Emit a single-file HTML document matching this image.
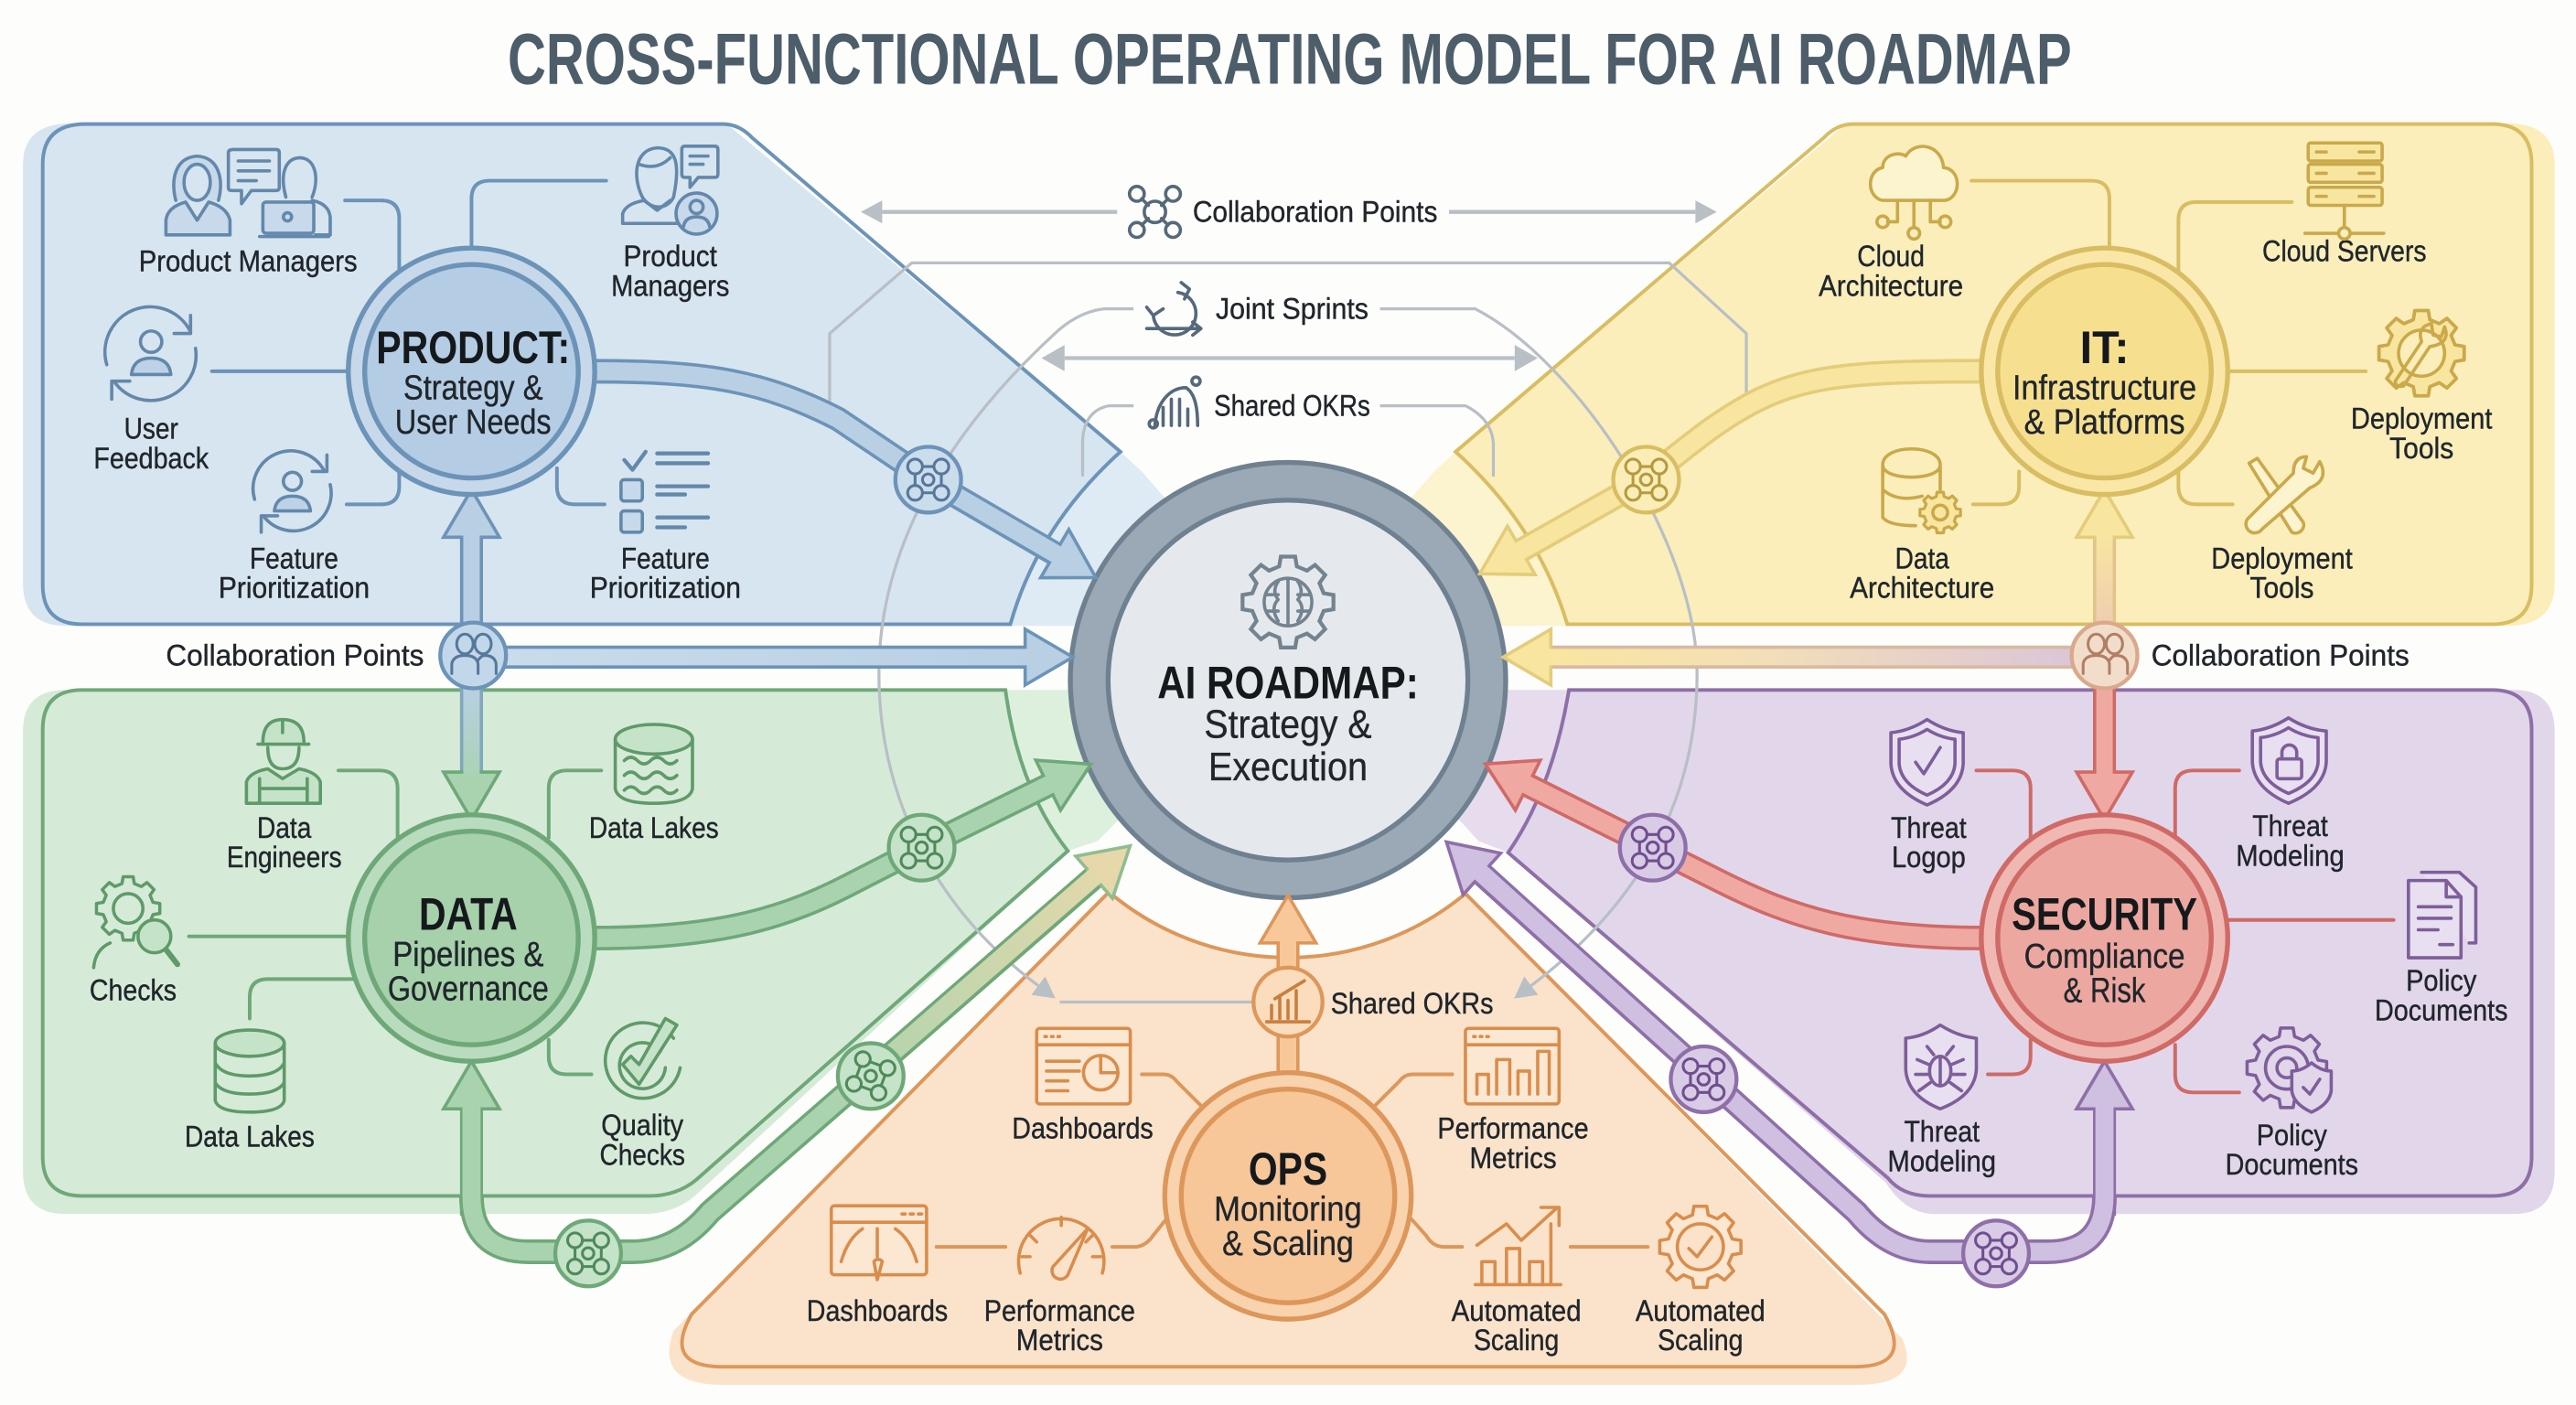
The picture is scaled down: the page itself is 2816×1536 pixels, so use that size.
<!DOCTYPE html>
<html><head><meta charset="utf-8"><title>Cross-Functional Operating Model for AI Roadmap</title>
<style>
html,body{margin:0;padding:0;background:#fdfdfc}
svg{display:block}
text{font-family:"Liberation Sans Narrow","Liberation Sans",sans-serif;fill:#20262b;text-anchor:middle}
.l{font-family:"Liberation Sans",sans-serif;font-size:18px;stroke:#20262b;stroke-width:.22px}
.h{font-family:"Liberation Sans",sans-serif;font-size:28px;font-weight:700;fill:#15191c}
.s{font-family:"Liberation Sans",sans-serif;font-size:21px;stroke:#20262b;stroke-width:.2px}
.ic{fill:none;stroke-width:2;stroke-linecap:round;stroke-linejoin:round}
.cn{fill:none;stroke-width:2.2;stroke-linecap:round;stroke-linejoin:round}
.g{fill:none;stroke:#b8bfc5;stroke-width:1.8}
.p{fill:none;stroke-linejoin:round}
</style></head><body>
<svg xmlns="http://www.w3.org/2000/svg" width="2816" height="1536" viewBox="0 0 1568 855.27">
<defs>
<polygon id="gear" points="19.4,-4.8 24.7,-3.9 24.7,3.9 19.4,4.8 17.1,10.3 20.2,14.7 14.7,20.2 10.3,17.1 4.8,19.4 3.9,24.7 -3.9,24.7 -4.8,19.4 -10.3,17.1 -14.7,20.2 -20.2,14.7 -17.1,10.3 -19.4,4.8 -24.7,3.9 -24.7,-3.9 -19.4,-4.8 -17.1,-10.3 -20.2,-14.7 -14.7,-20.2 -10.3,-17.1 -4.8,-19.4 -3.9,-24.7 3.9,-24.7 4.8,-19.4 10.3,-17.1 14.7,-20.2 20.2,-14.7 17.1,-10.3"/>
<g id="jn" fill="none" stroke-width="1.7" stroke-linecap="round"><circle cx="-8" cy="-8" r="4.5"/><circle cx="8" cy="-8" r="4.5"/><circle cx="-8" cy="8" r="4.5"/><circle cx="8" cy="8" r="4.5"/><circle cx="0" cy="0" r="3.5"/><path d="M-8,-3.5 V3.5 M8,-3.5 V3.5 M-3.5,-8 H3.5 M-3.5,8 H3.5"/></g>
<g id="ppl" fill="none" stroke-width="1.7" stroke-linecap="round"><ellipse cx="-5" cy="-7" rx="5" ry="6"/><ellipse cx="6" cy="-7" rx="5" ry="6"/><path d="M-13,11 V5 Q-12,0 -5,0 Q2,0 3,5 V11 M3,3 Q5,0 7,0 Q13,0 14,5 V11"/></g>
<marker id="mBlue" markerUnits="userSpaceOnUse" markerWidth="40" markerHeight="44" refX="2" refY="22" orient="auto"><path d="M2,5 L31,22 L2,39 Z" fill="#b9cfe4" stroke="#6c93b8" stroke-width="2"/></marker>
<marker id="mYel" markerUnits="userSpaceOnUse" markerWidth="40" markerHeight="44" refX="2" refY="22" orient="auto"><path d="M2,5 L31,22 L2,39 Z" fill="#f8e6a0" stroke="#e3cd7a" stroke-width="2"/></marker>
<marker id="mGrn" markerUnits="userSpaceOnUse" markerWidth="40" markerHeight="44" refX="2" refY="22" orient="auto"><path d="M2,5 L31,22 L2,39 Z" fill="#a9d3af" stroke="#6fa878" stroke-width="2"/></marker>
<marker id="mTan" markerUnits="userSpaceOnUse" markerWidth="40" markerHeight="44" refX="2" refY="22" orient="auto"><path d="M2,5 L31,22 L2,39 Z" fill="#e6d8ab" stroke="#8fbd8f" stroke-width="2"/></marker>
<marker id="mRed" markerUnits="userSpaceOnUse" markerWidth="40" markerHeight="44" refX="2" refY="22" orient="auto"><path d="M2,5 L31,22 L2,39 Z" fill="#efa9a2" stroke="#cf6a66" stroke-width="2"/></marker>
<marker id="mPur" markerUnits="userSpaceOnUse" markerWidth="40" markerHeight="44" refX="2" refY="22" orient="auto"><path d="M2,5 L31,22 L2,39 Z" fill="#cfbfe0" stroke="#8e6fa8" stroke-width="2"/></marker>
<marker id="mOr" markerUnits="userSpaceOnUse" markerWidth="40" markerHeight="44" refX="2" refY="22" orient="auto"><path d="M2,5 L31,22 L2,39 Z" fill="#f8c89a" stroke="#dd975a" stroke-width="2"/></marker>
<marker id="mG" markerUnits="userSpaceOnUse" markerWidth="18" markerHeight="18" refX="1" refY="9" orient="auto"><path d="M1,2 L14,9 L1,16 Z" fill="#b8bfc5"/></marker>
<linearGradient id="gBG" gradientUnits="userSpaceOnUse" x1="287" y1="418" x2="287" y2="480"><stop offset="0" stop-color="#b9cfe4"/><stop offset="1" stop-color="#a9d3af"/></linearGradient>
<linearGradient id="gGT" gradientUnits="userSpaceOnUse" x1="500" y1="680" x2="680" y2="520"><stop offset="0" stop-color="#a9d3af"/><stop offset="1" stop-color="#e6d8ab"/></linearGradient>
<linearGradient id="gYP" gradientUnits="userSpaceOnUse" x1="1260" y1="400" x2="940" y2="400"><stop offset="0" stop-color="#dcc6d8"/><stop offset="0.6" stop-color="#f3dfb6"/><stop offset="1" stop-color="#f8e6a0"/></linearGradient>
<linearGradient id="gYO" gradientUnits="userSpaceOnUse" x1="1281" y1="380" x2="1281" y2="325"><stop offset="0" stop-color="#f0cdb0"/><stop offset="1" stop-color="#f8e6a0"/></linearGradient>
<linearGradient id="gBl" gradientUnits="userSpaceOnUse" x1="300" y1="400" x2="630" y2="400"><stop offset="0" stop-color="#c9dcec"/><stop offset="1" stop-color="#b9cfe4"/></linearGradient>
</defs>

<rect width="1568" height="856" fill="#fdfdfc"/>
<text x="785" y="51" font-size="44" font-weight="700" style="fill:#4d5d6a;font-family:'Liberation Sans',sans-serif" textLength="952" lengthAdjust="spacingAndGlyphs">CROSS-FUNCTIONAL OPERATING MODEL FOR AI ROADMAP</text>

<!-- panels -->
<path d="M44,75 H442 L682,275 Q632,320 615,381 H40 Q14,381 14,355 V100 Q14,75 44,75Z" fill="#d7e5f0"/>
<path d="M695,287 L715,310 L680,381 H615 Q632,320 682,275Z" fill="#deebf4"/>
<path d="M52,75.5 H440 Q450,75.5 458,84 L682,275 Q632,320 615,380 H50 Q26,380 26,356 V100 Q26,75.5 52,75.5Z" fill="none" stroke="#6c93b8" stroke-width="2.2"/>

<path d="M1124,75 H1526 Q1555,75 1555,100 V355 Q1555,381 1526,381 H953 Q936,320 886,275Z" fill="#fbeebb"/>
<path d="M873,287 L853,310 L888,381 H953 Q936,320 886,275Z" fill="#fcf3cf"/>
<path d="M1128,75.5 H1517 Q1541,75.5 1541,100 V356 Q1541,380 1517,380 H954 Q936,320 886,275 L1110,84 Q1118,75.5 1128,75.5Z" fill="none" stroke="#d9bd62" stroke-width="2.2"/>

<path d="M14,445 Q14,420 40,420 H612 Q620,480 650,518 L423,728 Q410,739 392,739 H40 Q14,739 14,713Z" fill="#d6ead8"/>
<path d="M612,420 H700 L690,490 L668,512 L650,518 Q620,480 612,420Z" fill="#ddf0de"/>
<path d="M50,420 H612 Q620,480 650,518 L424,718 Q412,728 395,728 H50 Q26,728 26,704 V444 Q26,420 50,420Z" fill="none" stroke="#6fa878" stroke-width="2.2"/>

<path d="M955,420 H1530 Q1555,420 1555,445 V713 Q1555,739 1530,739 H1178 Q1160,739 1148,720 L918,519 Q945,480 955,420Z" fill="#e2d6ea"/>
<path d="M955,420 H868 L880,490 L900,512 L918,519 Q945,480 955,420Z" fill="#e6dcee"/>
<path d="M955,420 H1517 Q1541,420 1541,444 V704 Q1541,728 1517,728 H1174 Q1158,728 1149,717 L918,519 Q945,480 955,420Z" fill="none" stroke="#8e6fa8" stroke-width="2.2"/>

<path d="M675,543 A169,169 0 0 0 892,544 L1158,815 Q1170,843 1130,843 H440 Q398,843 410,810Z" fill="#fbe3cb"/>
<path d="M675,543 A169,169 0 0 0 892,544 L1147,800 Q1165,832 1129,832 H440 Q403,832 421,800Z" fill="none" stroke="#dd975a" stroke-width="2.2"/>

<!-- grey collaboration lines -->
<path class="g" style="stroke-width:2.4" d="M680,129 H537" marker-end="url(#mG)"/>
<path class="g" style="stroke-width:2.4" d="M882,129 H1032" marker-end="url(#mG)"/>
<path class="g" d="M505,245 V203 L555,160 H1016 L1063,203 V245"/>
<path class="g" d="M690,188 H672 Q655,190 640,205 C570,270 535,340 535,410 C535,480 565,550 632,600" marker-end="url(#mG)"/>
<path class="g" d="M840,188 H898 C960,220 1033,330 1033,410 C1033,500 985,560 932,600" marker-end="url(#mG)"/>
<path class="g" style="stroke-width:2.4" d="M648,218 H922" />
<path d="M648,210 L634,218 L648,226Z M922,210 L936,218 L922,226Z" fill="#b8bfc5"/>
<path class="g" d="M690,247 H675 Q660,250 659,268 V290"/>
<path class="g" d="M840,247 H892 Q908,255 909,270 V290"/>
<path class="g" d="M645,610 H765"/>

<!-- connectors -->
<g class="cn" stroke="#6c93b8">
<path d="M210,122 H232 Q243,122 243,133 V165"/><path d="M369,110 H298 Q287,110 287,121 V150"/><path d="M129,226 H212"/><path d="M211,307 H232 Q243,307 243,296 V287"/><path d="M368,307 H350 Q339,307 339,296 V285"/>
</g>
<g class="cn" stroke="#d9bd62">
<path d="M1200,110 H1273 Q1284,110 1284,121 V150"/><path d="M1395,123 H1337 Q1326,123 1326,134 V165"/><path d="M1356,226 H1440"/><path d="M1201,307 H1218 Q1229,307 1229,296 V287"/><path d="M1359,307 H1337 Q1326,307 1326,296 V285"/>
</g>
<g class="cn" stroke="#6fa878">
<path d="M206,469 H231 Q242,469 242,480 V510"/><path d="M366,469 H345 Q334,469 334,480 V510"/><path d="M115,570 H210"/><path d="M152,620 V607 Q152,596 163,596 H215"/><path d="M334,633 V643 Q334,654 345,654 H360"/>
</g>
<g class="cn" stroke="#cf6a66">
<path d="M1203,469 H1225 Q1236,469 1236,480 V510"/><path d="M1363,469 H1335 Q1324,469 1324,480 V510"/><path d="M1356,560 H1457"/><path d="M1210,654 H1225 Q1236,654 1236,643 V633"/><path d="M1363,665 H1335 Q1324,665 1324,654 V636"/>
</g>
<g class="cn" stroke="#dd975a">
<path d="M695,654 H708 Q713,654 716,658 L732,674"/><path d="M570,759 H612"/><path d="M677,759 H692 Q698,758 702,752 L710,742"/>
<path d="M884,654 H860 Q855,654 852,658 L836,674"/><path d="M859,742 L868,752 Q872,759 879,759 H890"/><path d="M956,759 H1003"/>
</g>

<!-- center ring -->
<circle cx="784" cy="414" r="121" fill="#e5e9ee" stroke="#9aa9b5" stroke-width="23"/>
<circle cx="784" cy="414" r="132.5" fill="none" stroke="#6f8090" stroke-width="3"/>
<circle cx="784" cy="414" r="109.5" fill="none" stroke="#6f8090" stroke-width="3"/>

<!-- pipes -->
<g class="p">
<path d="M362,226 C430,226 465,232 510,255 L565,292 L642,337" stroke="#6c93b8" stroke-width="15" marker-end="url(#mBlue)"/>
<path d="M362,226 C430,226 465,232 510,255 L565,292 L644,338" stroke="#b9cfe4" stroke-width="11"/>
<path d="M287,385 V327" stroke="#6c93b8" stroke-width="14" marker-end="url(#mBlue)"/>
<path d="M287,385 V325" stroke="#b9cfe4" stroke-width="10"/>
<path d="M300,400 H624" stroke="#6c93b8" stroke-width="14" marker-end="url(#mBlue)"/>
<path d="M300,400 H626" stroke="url(#gBl)" stroke-width="10"/>
<path d="M287,418 V470" stroke="#7fa8bc" stroke-width="14" marker-end="url(#mGrn)"/>
<path d="M287,418 V472" stroke="url(#gBG)" stroke-width="10"/>
<path d="M362,571 C440,571 480,558 520,537 L561,516 L638,478" stroke="#6fa878" stroke-width="15" marker-end="url(#mGrn)"/>
<path d="M362,571 C440,571 480,558 520,537 L561,516 L640,477" stroke="#a9d3af" stroke-width="11"/>
<path d="M287,740 V675" stroke="#6fa878" stroke-width="14" marker-end="url(#mGrn)"/>
<path d="M287,728 Q287,762 322,762 H385 Q412,762 432,738 L666,534" stroke="#6fa878" stroke-width="15" marker-end="url(#mTan)"/>
<path d="M287,673 V728 Q287,762 322,762 H385 Q412,762 432,738 L668,532" stroke="url(#gGT)" stroke-width="11"/>
<path d="M1206,226 C1110,226 1085,230 1040,262 Q1020,277 1002,292 L926,335" stroke="#e3cd7a" stroke-width="15" marker-end="url(#mYel)"/>
<path d="M1206,226 C1110,226 1085,230 1040,262 Q1020,277 1002,292 L924,336" stroke="#f8e6a0" stroke-width="11"/>
<path d="M1281,385 V327" stroke="#e2c48a" stroke-width="14" marker-end="url(#mYel)"/>
<path d="M1281,385 V325" stroke="url(#gYO)" stroke-width="10"/>
<path d="M1262,400 H944" stroke="#d9b9a0" stroke-width="14" marker-end="url(#mYel)"/>
<path d="M1262,400 H942" stroke="url(#gYP)" stroke-width="10"/>
<path d="M1281,418 V470" stroke="#cf6a66" stroke-width="14" marker-end="url(#mRed)"/>
<path d="M1281,418 V472" stroke="#efa9a2" stroke-width="10"/>
<path d="M1207,571 C1130,571 1090,558 1048,537 L1006,516 L930,478" stroke="#cf6a66" stroke-width="15" marker-end="url(#mRed)"/>
<path d="M1207,571 C1130,571 1090,558 1048,537 L1006,516 L928,477" stroke="#efa9a2" stroke-width="11"/>
<path d="M1281,740 V675" stroke="#8e6fa8" stroke-width="14" marker-end="url(#mPur)"/>
<path d="M1281,728 Q1281,762 1246,762 H1175 Q1150,762 1130,738 L902,532" stroke="#8e6fa8" stroke-width="15" marker-end="url(#mPur)"/>
<path d="M1281,673 V728 Q1281,762 1246,762 H1175 Q1150,762 1130,738 L900,530" stroke="#cfbfe0" stroke-width="11"/>
<path d="M784,652 V574" stroke="#dd975a" stroke-width="14" marker-end="url(#mOr)"/>
<path d="M784,652 V572" stroke="#f8c89a" stroke-width="10"/>
</g>

<!-- junctions -->
<g stroke-width="2.4">
<circle cx="565" cy="292" r="20" fill="#cbdcec" stroke="#6c93b8"/><use href="#jn" x="565" y="292" stroke="#56789b"/>
<circle cx="288" cy="399" r="20" fill="#c3d7ea" stroke="#6c93b8"/><use href="#ppl" x="288" y="399" stroke="#56789b"/>
<circle cx="1002" cy="292" r="20" fill="#fbedb8" stroke="#d9bd62"/><use href="#jn" x="1002" y="292" stroke="#b59a3f"/>
<circle cx="1281" cy="399" r="20" fill="#f2ddcb" stroke="#d9a98a"/><use href="#ppl" x="1281" y="399" stroke="#b07f65"/>
<circle cx="561" cy="516" r="20" fill="#c5e3c9" stroke="#6fa878"/><use href="#jn" x="561" y="516" stroke="#4f8a5a"/>
<circle cx="530" cy="655" r="20" fill="#c5e3c9" stroke="#6fa878"/><use href="#jn" x="530" y="655" stroke="#4f8a5a" transform="rotate(20 530 655)"/>
<circle cx="358" cy="763" r="20" fill="#c5e3c9" stroke="#6fa878"/><use href="#jn" x="358" y="763" stroke="#4f8a5a"/>
<circle cx="1006" cy="516" r="20" fill="#d9cbe6" stroke="#8e6fa8"/><use href="#jn" x="1006" y="516" stroke="#6f4f8f"/>
<circle cx="1037" cy="657" r="20" fill="#d9cbe6" stroke="#8e6fa8"/><use href="#jn" x="1037" y="657" stroke="#6f4f8f"/>
<circle cx="1215" cy="763" r="20" fill="#d9cbe6" stroke="#8e6fa8"/><use href="#jn" x="1215" y="763" stroke="#6f4f8f"/>
<circle cx="784" cy="610" r="21" fill="#fbdcbc" stroke="#dd975a"/>
<g class="ic" stroke="#c77f3f" stroke-width="1.7"><path d="M774,620 V612 M779,620 V606 M784,620 V609 M789,620 V603 M794,597 L776,608"/><path d="M771,622 H797"/></g>
</g>

<!-- nodes -->
<g stroke-width="3">
<circle cx="287" cy="226" r="75" fill="#c6d8ea" stroke="#6c93b8"/><circle cx="287" cy="226" r="65" fill="#b4cce4" stroke="#6c93b8"/>
<circle cx="1281" cy="226" r="75" fill="#fae7a8" stroke="#d9bd62"/><circle cx="1281" cy="226" r="65" fill="#f7df90" stroke="#d9bd62"/>
<circle cx="287" cy="571" r="75" fill="#b9dcbe" stroke="#6fa878"/><circle cx="287" cy="571" r="65" fill="#a6d1ab" stroke="#6fa878"/>
<circle cx="1281" cy="571" r="75" fill="#f0b8b2" stroke="#cf6a66"/><circle cx="1281" cy="571" r="65" fill="#eca7a0" stroke="#cf6a66"/>
<circle cx="784" cy="728" r="75" fill="#f9d2ae" stroke="#dd975a"/><circle cx="784" cy="728" r="65" fill="#f7c699" stroke="#dd975a"/>
</g>

<!-- node text -->
<text class="h" x="288" y="221" textLength="118" lengthAdjust="spacingAndGlyphs">PRODUCT:</text>
<text class="s" x="288" y="243" textLength="85" lengthAdjust="spacingAndGlyphs">Strategy &amp;</text>
<text class="s" x="288" y="264" textLength="95" lengthAdjust="spacingAndGlyphs">User Needs</text>
<text class="h" x="1281" y="221" textLength="30" lengthAdjust="spacingAndGlyphs">IT:</text>
<text class="s" x="1281" y="243" textLength="112" lengthAdjust="spacingAndGlyphs">Infrastructure</text>
<text class="s" x="1281" y="264" textLength="98" lengthAdjust="spacingAndGlyphs">&amp; Platforms</text>
<text class="h" x="285" y="566" textLength="60" lengthAdjust="spacingAndGlyphs">DATA</text>
<text class="s" x="285" y="588" textLength="92" lengthAdjust="spacingAndGlyphs">Pipelines &amp;</text>
<text class="s" x="285" y="609" textLength="98" lengthAdjust="spacingAndGlyphs">Governance</text>
<text class="h" x="1281" y="566" textLength="113" lengthAdjust="spacingAndGlyphs">SECURITY</text>
<text class="s" x="1281" y="589" textLength="98" lengthAdjust="spacingAndGlyphs">Compliance</text>
<text class="s" x="1281" y="610" textLength="50" lengthAdjust="spacingAndGlyphs">&amp; Risk</text>
<text class="h" x="784" y="721" textLength="48" lengthAdjust="spacingAndGlyphs">OPS</text>
<text class="s" x="784" y="743" textLength="90" lengthAdjust="spacingAndGlyphs">Monitoring</text>
<text class="s" x="784" y="764" textLength="80" lengthAdjust="spacingAndGlyphs">&amp; Scaling</text>
<text class="h" x="784" y="425" textLength="159" lengthAdjust="spacingAndGlyphs">AI ROADMAP:</text>
<text class="s" x="784" y="449" style="font-size:24px" textLength="102" lengthAdjust="spacingAndGlyphs">Strategy &amp;</text>
<text class="s" x="784" y="475" style="font-size:24px" textLength="97" lengthAdjust="spacingAndGlyphs">Execution</text>

<!-- labels -->
<g class="lb">
<text class="l" x="151" y="165" textLength="133" lengthAdjust="spacingAndGlyphs">Product Managers</text>
<text class="l" x="408" y="162" textLength="57" lengthAdjust="spacingAndGlyphs">Product</text><text class="l" x="408" y="180" textLength="72" lengthAdjust="spacingAndGlyphs">Managers</text>
<text class="l" x="92" y="267" textLength="33" lengthAdjust="spacingAndGlyphs">User</text><text class="l" x="92" y="285" textLength="70" lengthAdjust="spacingAndGlyphs">Feedback</text>
<text class="l" x="179" y="346" textLength="54" lengthAdjust="spacingAndGlyphs">Feature</text><text class="l" x="179" y="364" textLength="92" lengthAdjust="spacingAndGlyphs">Prioritization</text>
<text class="l" x="405" y="346" textLength="54" lengthAdjust="spacingAndGlyphs">Feature</text><text class="l" x="405" y="364" textLength="92" lengthAdjust="spacingAndGlyphs">Prioritization</text>
<text class="l" x="179.5" y="405" textLength="157" lengthAdjust="spacingAndGlyphs">Collaboration Points</text>
<text class="l" x="1388" y="405" textLength="157" lengthAdjust="spacingAndGlyphs">Collaboration Points</text>
<text class="l" x="1151" y="162" textLength="41" lengthAdjust="spacingAndGlyphs">Cloud</text><text class="l" x="1151" y="180" textLength="88" lengthAdjust="spacingAndGlyphs">Architecture</text>
<text class="l" x="1427" y="159" textLength="100" lengthAdjust="spacingAndGlyphs">Cloud Servers</text>
<text class="l" x="1474" y="261" textLength="86" lengthAdjust="spacingAndGlyphs">Deployment</text><text class="l" x="1474" y="279" textLength="39" lengthAdjust="spacingAndGlyphs">Tools</text>
<text class="l" x="1170" y="346" textLength="33" lengthAdjust="spacingAndGlyphs">Data</text><text class="l" x="1170" y="364" textLength="88" lengthAdjust="spacingAndGlyphs">Architecture</text>
<text class="l" x="1389" y="346" textLength="86" lengthAdjust="spacingAndGlyphs">Deployment</text><text class="l" x="1389" y="364" textLength="39" lengthAdjust="spacingAndGlyphs">Tools</text>
<text class="l" x="173" y="510" textLength="33" lengthAdjust="spacingAndGlyphs">Data</text><text class="l" x="173" y="528" textLength="70" lengthAdjust="spacingAndGlyphs">Engineers</text>
<text class="l" x="398" y="510" textLength="79" lengthAdjust="spacingAndGlyphs">Data Lakes</text>
<text class="l" x="81" y="609" textLength="53" lengthAdjust="spacingAndGlyphs">Checks</text>
<text class="l" x="152" y="698" textLength="79" lengthAdjust="spacingAndGlyphs">Data Lakes</text>
<text class="l" x="391" y="691" textLength="50" lengthAdjust="spacingAndGlyphs">Quality</text><text class="l" x="391" y="709" textLength="52" lengthAdjust="spacingAndGlyphs">Checks</text>
<text class="l" x="659" y="693" textLength="86" lengthAdjust="spacingAndGlyphs">Dashboards</text>
<text class="l" x="921" y="693" textLength="92" lengthAdjust="spacingAndGlyphs">Performance</text><text class="l" x="921" y="711" textLength="53" lengthAdjust="spacingAndGlyphs">Metrics</text>
<text class="l" x="534" y="804" textLength="86" lengthAdjust="spacingAndGlyphs">Dashboards</text>
<text class="l" x="645" y="804" textLength="92" lengthAdjust="spacingAndGlyphs">Performance</text><text class="l" x="645" y="822" textLength="53" lengthAdjust="spacingAndGlyphs">Metrics</text>
<text class="l" x="923" y="804" textLength="79" lengthAdjust="spacingAndGlyphs">Automated</text><text class="l" x="923" y="822" textLength="52" lengthAdjust="spacingAndGlyphs">Scaling</text>
<text class="l" x="1035" y="804" textLength="79" lengthAdjust="spacingAndGlyphs">Automated</text><text class="l" x="1035" y="822" textLength="52" lengthAdjust="spacingAndGlyphs">Scaling</text>
<text class="l" x="1174" y="510" textLength="46" lengthAdjust="spacingAndGlyphs">Threat</text><text class="l" x="1174" y="528" textLength="45" lengthAdjust="spacingAndGlyphs">Logop</text>
<text class="l" x="1394" y="509" textLength="46" lengthAdjust="spacingAndGlyphs">Threat</text><text class="l" x="1394" y="527" textLength="66" lengthAdjust="spacingAndGlyphs">Modeling</text>
<text class="l" x="1486" y="603" textLength="43" lengthAdjust="spacingAndGlyphs">Policy</text><text class="l" x="1486" y="621" textLength="81" lengthAdjust="spacingAndGlyphs">Documents</text>
<text class="l" x="1182" y="695" textLength="46" lengthAdjust="spacingAndGlyphs">Threat</text><text class="l" x="1182" y="713" textLength="66" lengthAdjust="spacingAndGlyphs">Modeling</text>
<text class="l" x="1395" y="697" textLength="43" lengthAdjust="spacingAndGlyphs">Policy</text><text class="l" x="1395" y="715" textLength="81" lengthAdjust="spacingAndGlyphs">Documents</text>
<text class="l" x="800.5" y="135" textLength="149" lengthAdjust="spacingAndGlyphs">Collaboration Points</text>
<text class="l" x="786.5" y="194" textLength="93" lengthAdjust="spacingAndGlyphs">Joint Sprints</text>
<text class="l" x="786.5" y="253" textLength="95" lengthAdjust="spacingAndGlyphs">Shared OKRs</text>
<text class="l" x="859.5" y="617" textLength="99" lengthAdjust="spacingAndGlyphs">Shared OKRs</text>
</g>

<!-- center gear -->
<use href="#gear" transform="translate(784,366.5) scale(1.12)" fill="none" stroke="#73838f" stroke-width="2.1"/>
<g class="ic" stroke="#73838f" stroke-width="1.8"><circle cx="784" cy="366.5" r="14.5"/><path d="M784,352 V381 M778,354 Q774,360 778,365 Q773,370 778,378 M790,354 Q794,360 790,365 Q795,370 790,378 M771,362 H778 M797,362 H790 M771,372 H778 M797,372 H790"/></g>

<!-- middle icons -->
<g class="ic" stroke="#56697a">
<circle cx="703" cy="129" r="6.5"/><circle cx="692" cy="118" r="4.5"/><circle cx="714" cy="118" r="4.5"/><circle cx="692" cy="140" r="4.5"/><circle cx="714" cy="140" r="4.5"/>
<path d="M695,121 L699,125 M711,121 L707,125 M695,137 L699,133 M711,137 L707,133"/>
<path d="M717,178 A13,13 0 1 1 702,192"/><path d="M698,187 L702,192 L708,188 M719,172 L724,176 L721,182"/><path d="M698,200 H730 M726,196 L731,200 L726,204"/>
<path d="M703,259 C704,245 712,236 722,236 C728,240 729,250 729,259 M708,259 V248 M713,259 V243 M718,259 V243 M723,259 V249"/><circle cx="702" cy="258" r="2.5"/><circle cx="728" cy="232" r="2.5"/>
</g>

<!-- product icons -->
<g class="ic" stroke="#6388ab">
<path d="M107,122 C104,110 106,96 120,95 C134,96 136,110 133,122" fill="#c7d9ea"/><ellipse cx="120" cy="111" rx="8" ry="11" fill="#d7e5f0"/>
<path d="M101,143 V134 Q102,126 113,123 L120,134 L127,123 Q138,126 140,134 V143Z" fill="#c7d9ea"/>
<path d="M142,91 H168 Q170,91 170,93 V114 Q170,116 168,116 H153 L147,124 V116 H141 Q139,116 139,114 V93 Q139,91 142,91Z" fill="#d7e5f0"/><path d="M145,98 H164 M145,104 H164 M145,110 H156"/>
<path d="M174,120 C170,105 174,96 183,96 C193,97 194,110 190,120"/><path d="M190,122 Q200,124 201,132 V143 H192"/>
<rect x="160" y="123" width="31" height="19" rx="2" fill="#c7d9ea"/><circle cx="175" cy="132" r="2.5"/><path d="M158,144 H200"/>
<path d="M391,120 C385,108 386,91 400,90 C412,90 414,100 410,120 C406,128 396,128 391,120Z" fill="#d7e5f0"/><path d="M389,100 Q400,104 408,96"/>
<path d="M379,136 V130 Q381,124 392,122 L400,128 L408,122 M379,136 H413"/>
<path d="M417,89 H435 Q437,89 437,91 V106 Q437,108 435,108 H425 L420,114 V108 H417 Q415,108 415,106 V91 Q415,89 417,89Z" fill="#d7e5f0"/><path d="M420,95 H431 M420,100 H428"/>
<circle cx="424" cy="130" r="12.5" fill="#c7d9ea"/><circle cx="424" cy="126" r="4"/><path d="M416,138 Q417,132 424,132 Q431,132 432,138"/>
<path d="M65,222 A27.5,27.5 0 0 1 116,202 M116,192 V203 H106 M119,212 A27.5,27.5 0 0 1 70,233 M68,243 V232 H79"/>
<circle cx="92" cy="208" r="6.5"/><path d="M80,228 Q81,218 92,218 Q103,218 104,228Z" fill="#bdd2e6"/>
<path d="M155,304 A23,23 0 0 1 197,286 M199,277 V287 H190 M201,295 A23,23 0 0 1 161,315 M159,324 V314 H169"/>
<circle cx="178" cy="293" r="5.5"/><path d="M167,311 Q168,302 178,302 Q188,302 189,311Z" fill="#bdd2e6"/>
<path d="M380,280 L385,286 L393,275" stroke-width="2.4"/><path d="M400,276 H431 M400,282 H431 M400,296 H431 M400,301 H417 M400,315 H431 M400,321 H417" stroke-width="2.4"/>
<rect x="378" y="292" width="13" height="13" rx="2" fill="#c7d9ea"/><rect x="378" y="311" width="13" height="13" rx="2" fill="#c7d9ea"/>
</g>

<!-- IT icons -->
<g class="ic" stroke="#c9a94a">
<path d="M1146,122 C1136,120 1136,104 1146,102 C1146,94 1156,92 1160,95 C1166,85 1182,88 1183,102 C1194,103 1194,120 1184,122Z" fill="#fcf3cf"/>
<path d="M1165,122 V138 M1155,122 V135 H1149 M1175,122 V135 H1181"/><circle cx="1165" cy="142" r="3.5"/><circle cx="1146" cy="135" r="3.5"/><circle cx="1184" cy="135" r="3.5"/>
<rect x="1405" y="87" width="45" height="11" rx="1.5" fill="#f8e6a0"/><rect x="1405" y="100" width="45" height="11" rx="1.5" fill="#f8e6a0"/><rect x="1405" y="114" width="45" height="11" rx="1.5" fill="#f8e6a0"/>
<path d="M1410,92.5 H1416 M1410,105.5 H1416 M1410,119.5 H1416 M1436,92.5 H1445 M1436,105.5 H1445 M1436,119.5 H1445"/><path d="M1427,125 V138 M1403,142 H1423 M1431,142 H1451"/><circle cx="1427" cy="142" r="3.5"/>
<use href="#gear" transform="translate(1474,215) scale(1.05)" fill="#f8e6a0" stroke="#c9a94a"/><circle cx="1474" cy="215" r="14" fill="#fbeebb"/>
<path d="M1458,232 L1474,208 M1463,235 L1479,211 M1474,208 Q1471,199 1480,197 L1481,204 L1486,205 L1488,199 Q1492,209 1479,211 M1458,232 Q1458,236 1463,235"/>
<path d="M1146,283 C1146,270 1181,270 1181,283 C1181,293 1146,293 1146,283 V315 Q1150,320 1166,320 M1146,298 Q1155,306 1170,302 M1181,283 V298"/>
<use href="#gear" transform="translate(1181,312) scale(.5)" fill="#f8e6a0" stroke="#c9a94a" stroke-width="3.6"/><circle cx="1181" cy="312" r="4.5"/>
<path d="M1369,282 L1374,279 L1402,318 A5,5 0 0 1 1395,324 Z" fill="#fcf3cf"/>
<path d="M1412,281 Q1418,292 1406,297 L1377,322 A5,5 0 0 1 1368,316 L1396,288 Q1396,278 1404,278 L1402,285 L1408,288Z" fill="#fcf3cf"/>
</g>

<!-- data icons -->
<g class="ic" stroke="#5f9a69">
<path d="M160,452 Q160,438 172,438 Q185,438 185,452 M157,453 H188 M172,438 V446" fill="#c5e3c9"/><path d="M163,455 Q163,468 172,468 Q182,468 182,455"/>
<path d="M150,489 V476 Q152,470 163,468 L172,474 L182,468 Q193,470 195,476 V489Z" fill="#c5e3c9"/><path d="M158,489 V474 M187,489 V474 M158,480 H187"/>
<ellipse cx="398" cy="450" rx="23.5" ry="9" fill="#c5e3c9"/><path d="M374.5,450 V480 Q376,489 398,489 Q420,489 421.5,480 V450"/>
<path d="M380,463 q4,-4 8,0 t8,0 t8,0 t8,0 M380,472 q4,-4 8,0 t8,0 t8,0 t8,0 M380,481 q4,-4 8,0 t8,0 t8,0 t8,0"/>
<use href="#gear" transform="translate(78,553) scale(.78)" fill="none" stroke="#5f9a69" stroke-width="2.5"/>
<circle cx="78" cy="553" r="9"/><circle cx="94" cy="570" r="10" fill="#c5e3c9"/><path d="M101,578 L108,587" stroke-width="3.4"/>
<path d="M57,589 Q58,578 67,574"/>
<ellipse cx="152" cy="635" rx="21" ry="8" fill="#c5e3c9"/><path d="M131,635 V670 Q133,677 152,677 Q171,677 173,670 V635 M131,647 Q135,655 152,655 Q169,655 173,647 M131,659 Q135,666 152,666 Q169,666 173,659"/>
<path d="M410,632 A23,23 0 1 0 414,650 M402,640 A14,14 0 1 0 405,650"/>
<path d="M379,648 L389,660 L412,624 L405,620 L389,648 L384,643Z" fill="#c5e3c9"/>
</g>

<!-- ops icons -->
<g class="ic" stroke="#d98d4c">
<rect x="631" y="626" width="57" height="46" rx="2" fill="#fce7d2"/><path d="M631,636 H688 M636,631 H637 M640,631 H641 M644,631 H645 M637,646 H657 M637,652 H657 M637,658 H650 M637,664 H650"/><circle cx="670" cy="653" r="10.5"/><path d="M670,653 V642.5 M670,653 H680.5"/>
<rect x="506" y="734" width="58" height="42" rx="2" fill="#fce7d2"/><path d="M506,744 H564 M549,739 H551 M554,739 H556 M559,739 H561"/>
<path d="M512,768 Q516,754 525,748 M545,748 Q554,754 558,768 M534,748 V765"/><path d="M532,768 L534,779 L537,768 A3,3 0 0 0 532,768Z"/>
<path d="M621,775 A26,26 0 1 1 671,775 M627,752 L631,756 M646,741 V746 M665,752 L661,756 M622,765 H627 M665,765 H670"/><path d="M641,771 L662,748 L650,776 A5,5 0 0 1 641,771Z"/>
<rect x="892" y="626" width="57" height="46" rx="2" fill="#fce7d2"/><path d="M892,636 H949 M897,631 H898 M901,631 H902 M905,631 H906"/><path d="M899,666 V654 H906 V666 M911,666 V645 H919 V666 M924,666 V652 H931 V666 M936,666 V640 H943 V666"/>
<path d="M898,782 H950 M902,782 V768 H910 V782 M917,782 V760 H925 V782 M931,782 V768 H939 V782 M944,782 V745"/><path d="M899,758 L917,745 L926,755 L948,735 M938,735 H949 V746"/>
<use href="#gear" transform="translate(1035,759)" fill="#fce7d2" stroke="#d98d4c"/><circle cx="1035" cy="759" r="14" fill="#fbe3cb"/><path d="M1028,760 L1033,765 L1042,753"/>
</g>

<!-- security icons -->
<g class="ic" stroke="#7e5e9a">
<path d="M1173,438 Q1184,445 1195,446 V465 Q1194,481 1173,490 Q1152,481 1151,465 V446 Q1162,445 1173,438Z" fill="#e8dff0"/>
<path d="M1173,444 Q1181,449 1190,450 V465 Q1189,477 1173,484 Q1157,477 1156,465 V450 Q1165,449 1173,444Z"/><path d="M1166,464 L1171,471 L1181,455"/>
<path d="M1393,437 Q1404,444 1416,445 V464 Q1415,480 1393,489 Q1372,480 1371,464 V445 Q1382,444 1393,437Z" fill="#e8dff0"/>
<path d="M1393,443 Q1401,448 1411,449 V464 Q1410,476 1393,483 Q1377,476 1376,464 V449 Q1385,448 1393,443Z"/><rect x="1386" y="462" width="15" height="12" rx="1.5"/><path d="M1389,462 V458 A4.5,4.5 0 0 1 1398,458 V462"/>
<path d="M1474,531 H1497 L1507,540 V574 H1503 M1466,536 H1489 L1498,546 V583 H1466Z" fill="#e8dff0"/><path d="M1489,536 V546 H1498 M1472,552 H1492 M1472,559 H1492 M1472,566 H1484 M1485,575 H1493"/>
<path d="M1181,624 Q1192,631 1203,632 V651 Q1202,667 1181,675 Q1161,667 1160,651 V632 Q1171,631 1181,624Z" fill="#e8dff0"/>
<ellipse cx="1181" cy="652" rx="6.5" ry="9"/><path d="M1181,643 V661 M1177,642 L1173,637 M1185,642 L1189,637 M1174,648 L1167,645 M1188,648 L1195,645 M1174,654 H1166 M1188,654 H1196 M1175,659 L1168,664 M1187,659 L1194,664"/>
<use href="#gear" transform="translate(1392,650) scale(.98)" fill="none" stroke="#7e5e9a"/><circle cx="1392" cy="650" r="13"/><circle cx="1392" cy="650" r="6"/>
<path d="M1407,647 Q1413,652 1419,652 V664 Q1418,672 1407,677 Q1396,672 1395,664 V652 Q1401,652 1407,647Z" fill="#e2d6ea"/><path d="M1402,662 L1406,666 L1412,657"/>
</g>
</svg>
</body></html>
